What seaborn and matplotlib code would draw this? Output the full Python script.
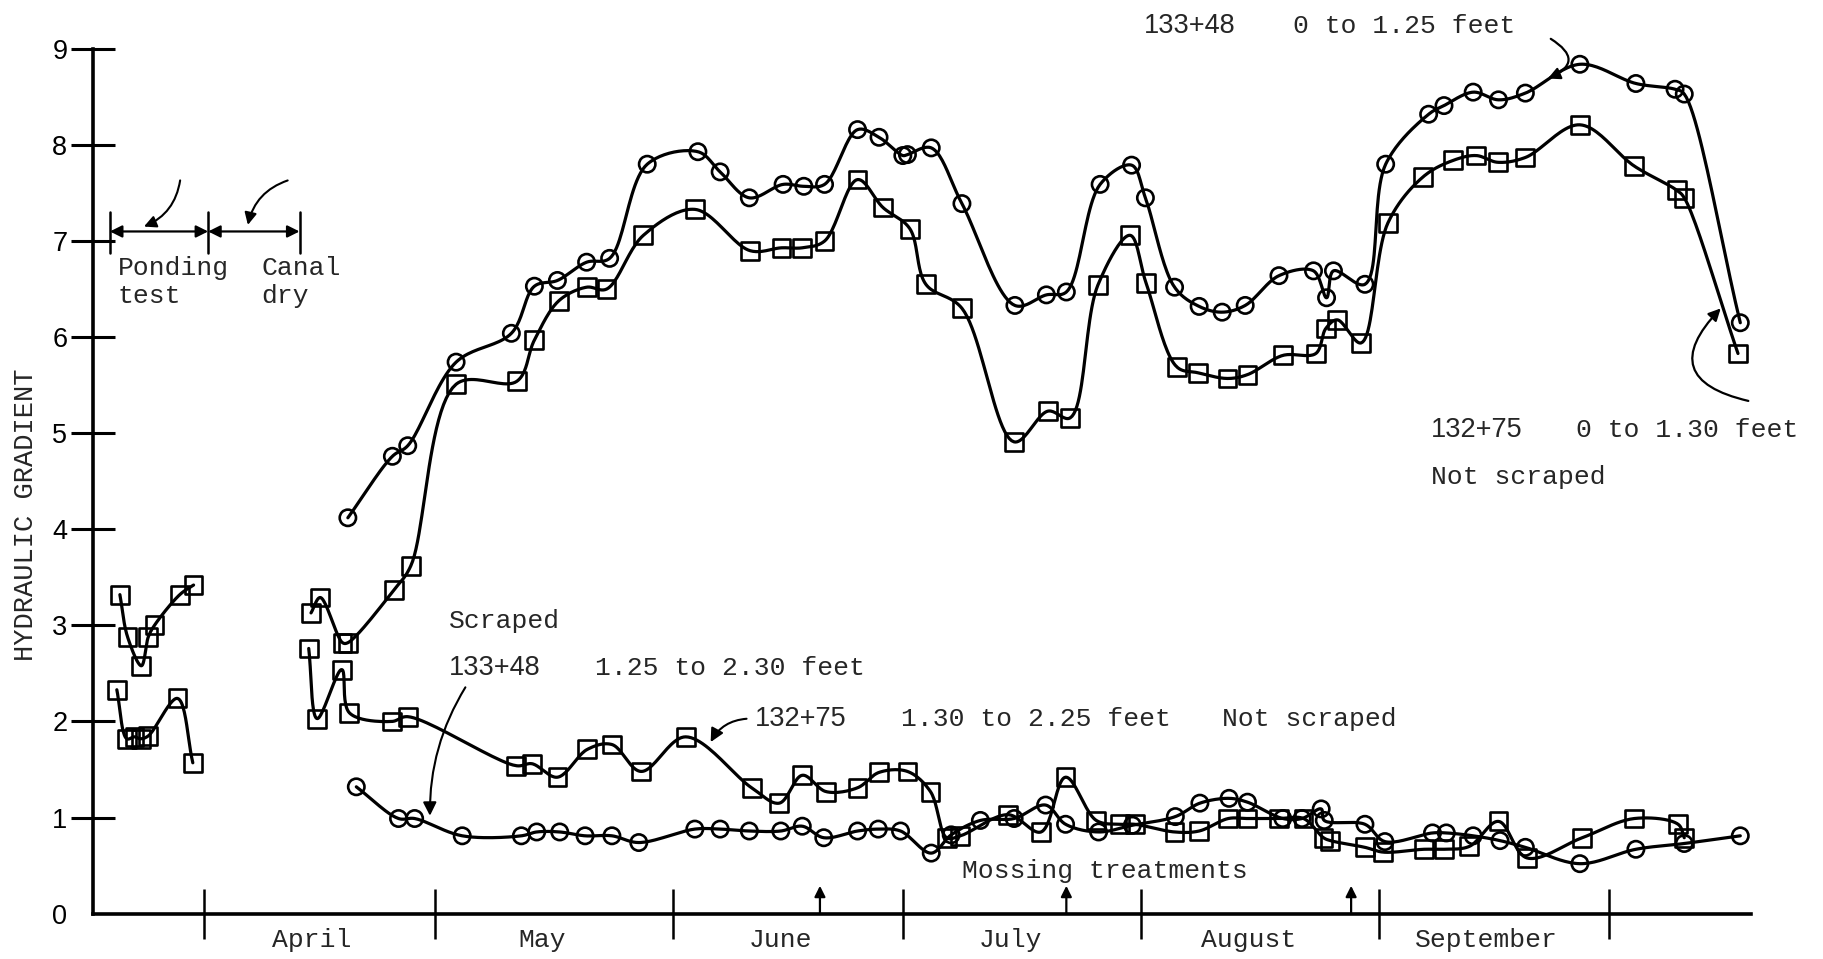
import numpy as np
import pandas as pd
import matplotlib
matplotlib.use("Agg")
import matplotlib.pyplot as plt
import seaborn as sns

# x values are days counted from April 1 (negative days fall in late March)
month_edges = [0, 30, 61, 91, 122, 153, 183]
month_names = ["April", "May", "June", "July", "August", "September"]
month_label_days = [14, 44, 75, 105, 136, 167]
y_ticks = [0, 1, 2, 3, 4, 5, 6, 7, 8, 9]

# Ponding test readings (late March)
sta13275_upper_early_day = [-11.0, -10.0, -8.2, -7.3, -6.5, -3.2, -1.4]
sta13275_upper_early_val = [3.32, 2.88, 2.58, 2.88, 3.00, 3.32, 3.42]
sta13275_lower_early_day = [-11.4, -10.1, -9.1, -8.3, -7.3, -3.5, -1.5]
sta13275_lower_early_val = [2.33, 1.82, 1.84, 1.82, 1.85, 2.24, 1.57]

# 133+48, 0 to 1.25 feet (circles, upper)
sta13348_upper_day = [18.7, 24.5, 26.5, 32.8, 40.0, 43.0, 46.0, 49.8, 52.8, 57.7,
                      64.3, 67.2, 71.0, 75.4, 78.1, 80.8, 85.1, 87.9, 91.0, 91.6,
                      94.7, 98.7, 105.6, 109.7, 112.3, 116.7, 120.8, 122.6, 126.4, 129.6,
                      132.6, 135.6, 140.0, 144.5, 146.2, 147.1, 151.2, 153.9, 159.5, 161.5,
                      165.3, 168.6, 172.1, 179.2, 186.5, 191.6, 192.8, 200.1]
sta13348_upper_val = [4.12, 4.76, 4.87, 5.74, 6.04, 6.53, 6.59, 6.78, 6.82, 7.80,
                      7.93, 7.72, 7.45, 7.59, 7.57, 7.59, 8.16, 8.08, 7.89, 7.90,
                      7.97, 7.39, 6.33, 6.44, 6.47, 7.59, 7.79, 7.45, 6.52, 6.32,
                      6.26, 6.33, 6.64, 6.69, 6.41, 6.69, 6.55, 7.80, 8.32, 8.41,
                      8.55, 8.47, 8.54, 8.84, 8.64, 8.58, 8.53, 6.15]

# 132+75, 0 to 1.30 feet (squares, upper)
sta13275_upper_day = [13.9, 15.1, 18.0, 18.7, 24.7, 26.9, 32.8, 40.7, 43.0, 46.2,
                      49.8, 52.4, 57.2, 63.9, 71.1, 75.2, 77.9, 80.8, 85.1, 88.4,
                      91.9, 94.0, 98.7, 105.5, 109.9, 112.8, 116.4, 120.6, 122.7, 126.7,
                      129.4, 133.3, 135.9, 140.5, 144.8, 146.1, 147.6, 150.7, 154.2, 158.8,
                      162.7, 165.7, 168.5, 172.1, 179.2, 186.3, 191.8, 192.8, 199.8]
sta13275_upper_val = [3.13, 3.29, 2.82, 2.82, 3.37, 3.62, 5.51, 5.54, 5.97, 6.38,
                      6.52, 6.50, 7.06, 7.33, 6.90, 6.93, 6.93, 7.00, 7.64, 7.35,
                      7.13, 6.55, 6.30, 4.91, 5.23, 5.16, 6.54, 7.06, 6.56, 5.69,
                      5.63, 5.57, 5.61, 5.81, 5.83, 6.09, 6.18, 5.94, 7.19, 7.67,
                      7.84, 7.89, 7.82, 7.87, 8.21, 7.78, 7.53, 7.45, 5.83]

# 133+48, 1.25 to 2.30 feet (circles, lower)
sta13348_lower_day = [19.8, 25.3, 27.4, 33.6, 41.3, 43.3, 46.3, 49.6, 53.1, 56.6,
                      63.9, 67.2, 71.0, 75.1, 77.9, 80.7, 85.1, 87.8, 90.7, 94.7,
                      97.3, 101.1, 105.5, 109.6, 112.2, 116.5, 120.9, 126.5, 129.7, 133.5,
                      135.9, 140.5, 143.0, 145.5, 145.9, 151.2, 153.8, 160.0, 161.8, 165.3,
                      168.8, 172.1, 179.2, 186.5, 192.8, 200.1]
sta13348_lower_val = [1.32, 0.99, 0.99, 0.81, 0.81, 0.85, 0.85, 0.81, 0.81, 0.74,
                      0.88, 0.88, 0.86, 0.86, 0.91, 0.79, 0.86, 0.88, 0.86, 0.63,
                      0.82, 0.97, 0.99, 1.13, 0.93, 0.85, 0.92, 1.01, 1.15, 1.20,
                      1.16, 0.99, 0.99, 1.09, 0.97, 0.93, 0.75, 0.84, 0.84, 0.81,
                      0.76, 0.69, 0.52, 0.67, 0.73, 0.81]

# 132+75, 1.30 to 2.25 feet (squares, lower)
sta13275_lower_day = [13.6, 14.7, 17.9, 18.9, 24.4, 26.5, 40.6, 42.7, 46.0, 49.9,
                      53.1, 56.9, 62.7, 71.3, 74.9, 77.9, 81.0, 85.1, 87.9, 91.6,
                      94.6, 96.7, 98.5, 104.7, 109.0, 112.2, 116.2, 119.3, 121.2, 126.4,
                      129.6, 133.4, 135.9, 140.0, 143.2, 145.8, 146.7, 151.2, 153.6, 158.9,
                      161.5, 164.8, 168.6, 172.3, 179.5, 186.3, 192.0, 192.8]
sta13275_lower_val = [2.76, 2.03, 2.54, 2.09, 2.00, 2.05, 1.54, 1.56, 1.42, 1.71,
                      1.76, 1.48, 1.84, 1.31, 1.15, 1.44, 1.27, 1.31, 1.47, 1.48,
                      1.27, 0.79, 0.81, 1.03, 0.85, 1.42, 0.97, 0.93, 0.93, 0.85,
                      0.86, 0.99, 0.99, 0.99, 0.99, 0.79, 0.76, 0.69, 0.64, 0.67,
                      0.67, 0.70, 0.96, 0.58, 0.79, 0.99, 0.93, 0.79]

mossing_days = [80.2, 112.3, 149.4]

sns.set_theme(style="white")
plt.rcParams["font.family"] = ["Liberation Mono", "DejaVu Sans Mono"]

X_MIN, X_MAX = -14.5, 201.5
PX_PER_DAY, PX_PER_UNIT = 7.68, 96.0
TXT = 19
NUM = 19.5
NUM_FONT = "Liberation Sans"


def smooth_path(xs, ys, n=24, alpha=0.5):
    """Centripetal Catmull-Rom curve through the readings, like a French curve."""
    pts = np.column_stack([np.asarray(xs, float) * PX_PER_DAY,
                           np.asarray(ys, float) * PX_PER_UNIT])
    keep = [0]
    for i in range(1, len(pts)):
        if np.linalg.norm(pts[i] - pts[keep[-1]]) > 1.0:
            keep.append(i)
    pts = pts[keep]
    if len(pts) < 2:
        return pts[:, 0] / PX_PER_DAY, pts[:, 1] / PX_PER_UNIT
    ext = np.vstack([2 * pts[0] - pts[1], pts, 2 * pts[-1] - pts[-2]])
    segs = []
    for i in range(len(ext) - 3):
        p0, p1, p2, p3 = ext[i:i + 4]
        t0 = 0.0
        t1 = t0 + np.linalg.norm(p1 - p0) ** alpha
        t2 = t1 + np.linalg.norm(p2 - p1) ** alpha
        t3 = t2 + np.linalg.norm(p3 - p2) ** alpha
        t = np.linspace(t1, t2, n)[:, None]
        a1 = (t1 - t) / (t1 - t0) * p0 + (t - t0) / (t1 - t0) * p1
        a2 = (t2 - t) / (t2 - t1) * p1 + (t - t1) / (t2 - t1) * p2
        a3 = (t3 - t) / (t3 - t2) * p2 + (t - t2) / (t3 - t2) * p3
        b1 = (t2 - t) / (t2 - t0) * a1 + (t - t0) / (t2 - t0) * a2
        b2 = (t3 - t) / (t3 - t1) * a2 + (t - t1) / (t3 - t1) * a3
        c = (t2 - t) / (t2 - t1) * b1 + (t - t1) / (t2 - t1) * b2
        segs.append(c if i == 0 else c[1:])
    curve = np.vstack(segs)
    return curve[:, 0] / PX_PER_DAY, curve[:, 1] / PX_PER_UNIT


fig = plt.figure(figsize=(18.24, 9.59), dpi=100)
ax = fig.add_axes([0.051, 0.0473, 0.909, 0.9017])
ax.set_xlim(X_MIN, X_MAX)
ax.set_ylim(0, 9)

series = [
    (sta13275_upper_early_day, sta13275_upper_early_val, "s"),
    (sta13275_lower_early_day, sta13275_lower_early_val, "s"),
    (sta13348_upper_day, sta13348_upper_val, "o"),
    (sta13275_upper_day, sta13275_upper_val, "s"),
    (sta13348_lower_day, sta13348_lower_val, "o"),
    (sta13275_lower_day, sta13275_lower_val, "s"),
]

for days, vals, mk in series:
    cx, cy = smooth_path(days, vals)
    curve = pd.DataFrame({"day": cx, "gradient": cy})
    sns.lineplot(data=curve, x="day", y="gradient", sort=False, estimator=None,
                 color="black", linewidth=2.3, ax=ax, zorder=2)
    pts = pd.DataFrame({"day": days, "gradient": vals})
    sns.scatterplot(data=pts, x="day", y="gradient", marker=mk,
                    s=165 if mk == "s" else 138, ax=ax, zorder=3)
    coll = ax.collections[-1]
    coll.set_facecolor("none")
    coll.set_edgecolor("black")
    coll.set_linewidth(1.9)

# axes frame
for side in ["top", "right"]:
    ax.spines[side].set_visible(False)
for side in ["left", "bottom"]:
    ax.spines[side].set_linewidth(2.6)
    ax.spines[side].set_color("black")
ax.set_xlabel("")
ax.set_ylabel("")

ax.set_yticks(y_ticks)
ax.set_yticklabels([str(v) for v in y_ticks], fontfamily=NUM_FONT, fontsize=NUM)
ax.tick_params(axis="y", left=True, direction="inout", length=31, width=2.2, pad=3,
               colors="black")
ax.yaxis.get_major_ticks()[0].tick1line.set_visible(False)

ax.set_xticks(month_edges)
ax.set_xticklabels([""] * len(month_edges))
ax.tick_params(axis="x", bottom=True, direction="inout", length=36, width=1.8,
               colors="black")

for d, name in zip(month_label_days, month_names):
    ax.text(d, -0.27, name, ha="center", va="center", fontsize=TXT, clip_on=False)

fig.text(0.014, 0.463, "HYDRAULIC GRADIENT", rotation=90, ha="center", va="center",
         fontsize=19.5)

# ponding test / canal dry brackets
bar_y = 7.10
for d in [-12.3, 0.5, 12.4]:
    ax.plot([d, d], [6.88, 7.30], color="black", lw=1.8, clip_on=False)
for a, b in [(-12.3, 0.5), (0.5, 12.4)]:
    ax.annotate("", xy=(b, bar_y), xytext=(a, bar_y),
                arrowprops=dict(arrowstyle="<|-|>", color="black", lw=1.6,
                                mutation_scale=18, shrinkA=0, shrinkB=0))
ax.annotate("", xy=(-8.2, 7.14), xytext=(-3.1, 7.66),
            arrowprops=dict(arrowstyle="-|>", color="black", lw=1.5,
                            connectionstyle="arc3,rad=-0.3", mutation_scale=18))
ax.annotate("", xy=(5.6, 7.14), xytext=(11.2, 7.64),
            arrowprops=dict(arrowstyle="-|>", color="black", lw=1.5,
                            connectionstyle="arc3,rad=0.3", mutation_scale=18))
ax.text(-11.3, 6.72, "Ponding", ha="left", va="center", fontsize=TXT)
ax.text(-11.3, 6.43, "test", ha="left", va="center", fontsize=TXT)
ax.text(7.4, 6.72, "Canal", ha="left", va="center", fontsize=TXT)
ax.text(7.4, 6.43, "dry", ha="left", va="center", fontsize=TXT)

# lower curves labels
ax.text(31.9, 3.05, "Scraped", ha="left", va="center", fontsize=TXT)
ax.text(31.9, 2.56, "133+48", ha="left", va="center", fontsize=NUM, fontfamily=NUM_FONT)
ax.text(50.9, 2.56, "1.25 to 2.30 feet", ha="left", va="center", fontsize=TXT)
ax.annotate("", xy=(29.4, 0.99), xytext=(34.2, 2.38),
            arrowprops=dict(arrowstyle="-|>", color="black", lw=1.5,
                            connectionstyle="arc3,rad=0.15", mutation_scale=20))

ax.text(71.7, 2.03, "132+75", ha="left", va="center", fontsize=NUM, fontfamily=NUM_FONT)
ax.text(90.7, 2.03, "1.30 to 2.25 feet", ha="left", va="center", fontsize=TXT)
ax.text(132.6, 2.03, "Not scraped", ha="left", va="center", fontsize=TXT)
ax.annotate("", xy=(65.8, 1.76), xytext=(71.0, 2.03),
            arrowprops=dict(arrowstyle="-|>", color="black", lw=1.5,
                            connectionstyle="arc3,rad=0.3", mutation_scale=20))

ax.text(98.7, 0.44, "Mossing treatments", ha="left", va="center", fontsize=TXT)
for d in mossing_days:
    ax.annotate("", xy=(d, 0.29), xytext=(d, 0.0),
                arrowprops=dict(arrowstyle="-|>", color="black", lw=1.6,
                                mutation_scale=16, shrinkA=0, shrinkB=0))

# upper curves labels
ax.text(122.4, 9.24, "133+48", ha="left", va="center", fontsize=NUM,
        fontfamily=NUM_FONT, clip_on=False)
ax.text(141.8, 9.24, "0 to 1.25 feet", ha="left", va="center", fontsize=TXT, clip_on=False)
ax.annotate("", xy=(174.7, 8.68), xytext=(175.1, 9.12),
            arrowprops=dict(arrowstyle="-|>", color="black", lw=1.6,
                            connectionstyle="arc3,rad=-1.0", mutation_scale=18),
            annotation_clip=False)

ax.text(159.8, 5.03, "132+75", ha="left", va="center", fontsize=NUM, fontfamily=NUM_FONT)
ax.text(178.7, 5.03, "0 to 1.30 feet", ha="left", va="center", fontsize=TXT)
ax.text(159.8, 4.54, "Not scraped", ha="left", va="center", fontsize=TXT)
ax.annotate("", xy=(197.8, 6.32), xytext=(201.5, 5.33),
            arrowprops=dict(arrowstyle="-|>", color="black", lw=1.6,
                            connectionstyle="arc3,rad=-0.9", mutation_scale=18),
            annotation_clip=False)

fig.savefig("out.png", dpi=100, facecolor="white")
